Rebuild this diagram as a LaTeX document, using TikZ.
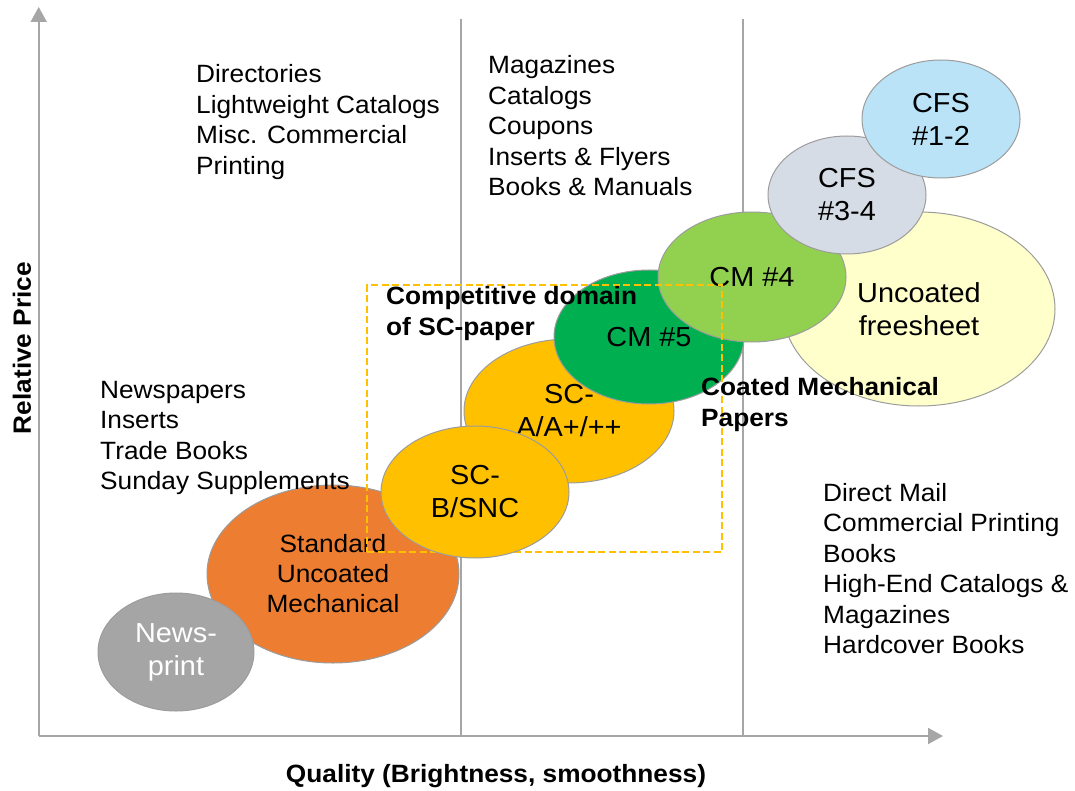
\documentclass[tikz,border=0pt]{standalone}
\usepackage{fontspec}
\setmainfont{Liberation Sans}[FakeStretch=1.05]
\usetikzlibrary{%
    arrows.meta,
    positioning,
    shapes.geometric
}
\definecolor{axisgray}{HTML}{A6A6A6}
\definecolor{rimgray}{HTML}{9C9C9C}
\definecolor{newsgray}{HTML}{A5A5A5}
\definecolor{suorange}{HTML}{ED7D31}
\definecolor{scyellow}{HTML}{FFC000}
\definecolor{cmdark}{HTML}{00B050}
\definecolor{cmlight}{HTML}{92D050}
\definecolor{cfsgray}{HTML}{D6DCE5}
\definecolor{cfsblue}{HTML}{BAE3F7}
\definecolor{ufscream}{HTML}{FFFFCC}
\tikzset{axis/.style = {draw=axisgray, line width=2pt, -{Triangle[length=15pt, width=16pt]}}}
\tikzset{divider/.style = {draw=axisgray, line width=1.2pt}}
\tikzset{paper/.style = {ellipse, draw=rimgray, line width=1pt, inner sep=0pt,
    align=center, font=\fontsize{27.5}{33}\selectfont}}
% lists are placed by the baseline of their last line
\tikzset{uselist/.style = {anchor=base west, inner sep=0pt, align=left,
    font=\fontsize{25}{30.5}\selectfont}}
\tikzset{boldlabel/.style = {anchor=base west, inner sep=0pt, align=left,
    font=\fontsize{25}{31.5}\selectfont\bfseries}}
\tikzset{axislabel/.style = {inner sep=0pt, font=\fontsize{25}{30}\selectfont\bfseries}}
\tikzset{domainbox/.style = {draw=scyellow, line width=2.5pt,
    dash pattern=on 7pt off 3.5pt, inner sep=0pt}}

\begin{document}
\begin{tikzpicture}[x=1pt, y=-1pt]
    \useasboundingbox (0,0) rectangle (1075,791);

    % axes and columns
    \coordinate (origin) at (38.7,736);
    \coordinate (ytop)   at (38.7,7);
    \coordinate (xend)   at (943,736);
    \draw[axis] (origin) to (ytop);
    \draw[axis] (origin) to (xend);
    \foreach \Col/\X in {mid/461, right/743} {
        \coordinate (\Col top) at (\X,19);
        \coordinate (\Col bot) at (\X,736);
        \draw[divider] (\Col top) to (\Col bot);
    }

    % paper grades
    \node (standard)  [paper, fill=suorange, minimum width=252pt, minimum height=178pt,
                       font=\fontsize{25}{30}\selectfont] at (333,574)
                      {Standard\\Uncoated\\Mechanical};
    \node (newsprint) [paper, fill=newsgray, text=white, minimum width=156pt,
                       minimum height=118pt] at (176,652) {News-\\print};
    \node (sca)       [paper, fill=scyellow, minimum width=210pt, minimum height=144pt]
                      at (569,411) {SC-\\A/A+/++};
    \node (cmfive)    [paper, fill=cmdark, minimum width=190pt, minimum height=134pt]
                      at (649,337) {CM \#5};
    \node (freesheet) [paper, fill=ufscream, minimum width=272pt, minimum height=194pt]
                      at (919,309) {Uncoated\\freesheet};
    \node (cmfour)    [paper, fill=cmlight, minimum width=188pt, minimum height=130pt]
                      at (752,277) {CM \#4};
    \node (cfsthree)  [paper, fill=cfsgray, minimum width=158pt, minimum height=118pt]
                      at (847,195) {CFS\\\#3-4};
    \node (cfsone)    [paper, fill=cfsblue, minimum width=158pt, minimum height=118pt]
                      at (941,119) {CFS\\\#1-2};

    \node (domain)    [domainbox, minimum width=355pt, minimum height=267pt]
                      at (544.5,418.5) {};
    \node (scb)       [paper, fill=scyellow, minimum width=188pt, minimum height=132pt]
                      at (475,492) {SC-\\B/SNC};

    % labels
    \node (domainlabel) [boldlabel] at (386,335.5) {Competitive domain\\of SC-paper};
    \node (cmlabel)     [boldlabel] at (701,426.5) {Coated Mechanical\\Papers};

    \node (newslist)  [uselist] at (100,489.5)
        {Newspapers\\Inserts\\Trade Books\\Sunday Supplements};
    \node (midlist)   [uselist] at (196,174.5)
        {Directories\\Lightweight Catalogs\\Misc. Commercial\\Printing};
    \node (sclist)    [uselist] at (488,196)
        {Magazines\\Catalogs\\Coupons\\Inserts \& Flyers\\Books \& Manuals};
    \node (finelist)  [uselist] at (823,653.5)
        {Direct Mail\\Commercial Printing\\Books\\High-End Catalogs \&\\Magazines\\Hardcover Books};

    \node (pricelabel)   [axislabel, rotate=90] at (22,348) {Relative Price};
    \node (qualitylabel) [axislabel, anchor=base] at (496,782)
        {Quality (Brightness, smoothness)};
\end{tikzpicture}
\end{document}
